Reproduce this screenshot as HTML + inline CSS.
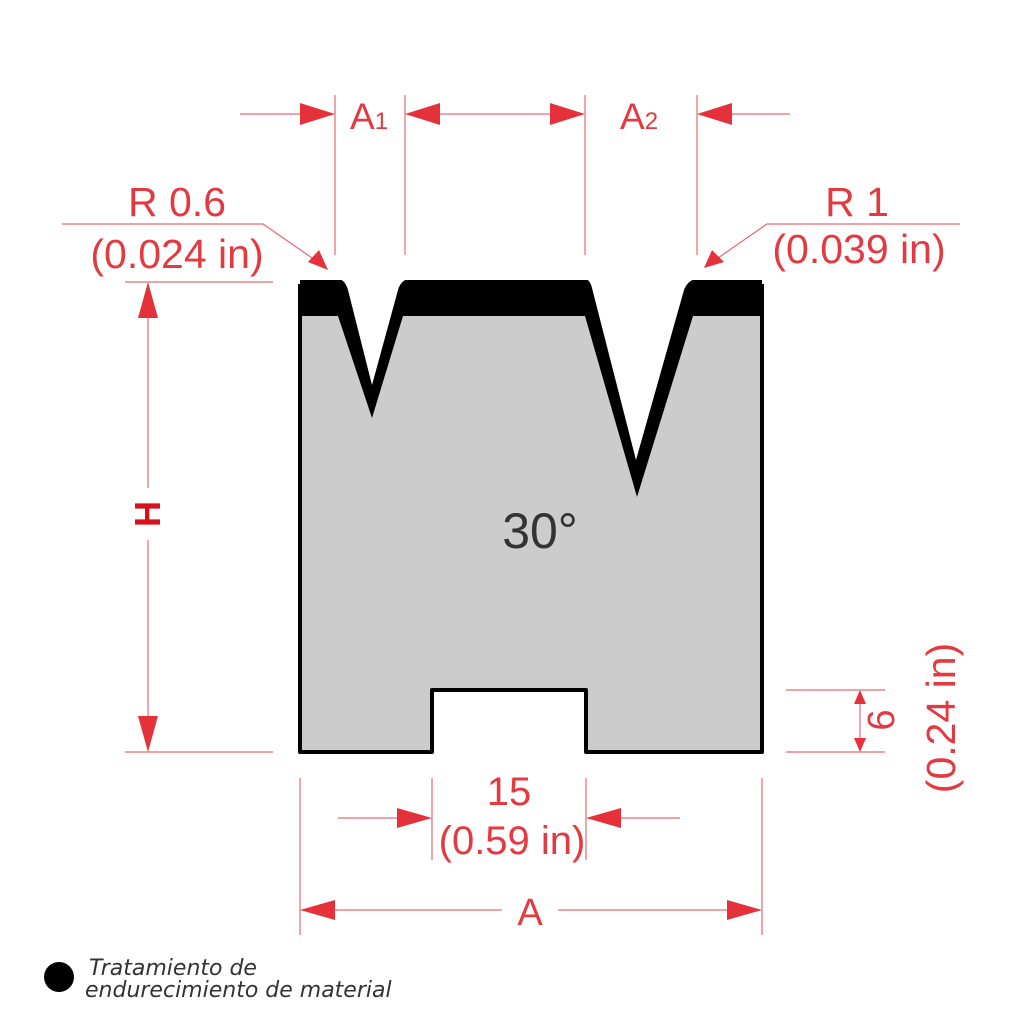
<!DOCTYPE html>
<html><head><meta charset="utf-8"><style>
html,body{margin:0;padding:0;background:#fff;}
svg{display:block;}
</style></head><body>
<svg width="1024" height="1024" viewBox="0 0 1024 1024" xmlns="http://www.w3.org/2000/svg">
<!-- body -->
<path d="M300,282 H762 V752 H586 V690 H432 V752 H300 Z" fill="#cccccc"/>
<!-- black band and V strokes -->
<polygon points="300,280 762,280 762,316 693,316 637,497 585,316 403,316 372,418 338,316 300,316" fill="#000"/>
<!-- outline (no top) -->
<path d="M762,284 V752 H586 V690 H432 V752 H300 V284" fill="none" stroke="#000" stroke-width="4" stroke-linejoin="round"/>
<!-- white notches -->
<path d="M336,278 Q345,279 348,290 L372,385 L398,290 Q401,279 412,278 Z" fill="#fff"/>
<path d="M583,278 Q590,279 592,288 L636,460 L684,290 Q688,279 700,278 Z" fill="#fff"/>
<text x="540" y="548" font-family="Liberation Sans, sans-serif" font-size="50" fill="#333" text-anchor="middle">30°</text>

<g stroke="#e66a70" stroke-width="1.2" fill="none">
<line x1="335" y1="95" x2="335" y2="255"/>
<line x1="405" y1="95" x2="405" y2="255"/>
<line x1="585" y1="95" x2="585" y2="255"/>
<line x1="697" y1="95" x2="697" y2="255"/>
<line x1="240" y1="114" x2="300" y2="114"/>
<line x1="440" y1="114" x2="550" y2="114"/>
<line x1="732" y1="114" x2="790" y2="114"/>
<polyline points="62,224 263,224 315,260"/>
<polyline points="960,224 767,224 718,258"/>
<line x1="125" y1="282" x2="273" y2="282"/>
<line x1="125" y1="752" x2="273" y2="752"/>
<line x1="148" y1="310" x2="148" y2="488"/>
<line x1="148" y1="540" x2="148" y2="725"/>
<line x1="786" y1="690" x2="885" y2="690"/>
<line x1="786" y1="752" x2="885" y2="752"/>
<line x1="860" y1="700" x2="860" y2="742"/>
<line x1="432" y1="778" x2="432" y2="860"/>
<line x1="586" y1="778" x2="586" y2="860"/>
<line x1="338" y1="818" x2="400" y2="818"/>
<line x1="618" y1="818" x2="680" y2="818"/>
<line x1="300" y1="778" x2="300" y2="935"/>
<line x1="762" y1="778" x2="762" y2="935"/>
<line x1="335" y1="910" x2="502" y2="910"/>
<line x1="558" y1="910" x2="727" y2="910"/>
</g>
<g fill="#e5323a">
<polygon points="335,114 300,103 300,125"/>
<polygon points="405,114 440,103 440,125"/>
<polygon points="585,114 550,103 550,125"/>
<polygon points="697,114 732,103 732,125"/>
<polygon points="328,270 308,262 319,250"/>
<polygon points="704,268 712,250 724,262"/>
<polygon points="148,282 138,318 158,318"/>
<polygon points="148,752 138,716 158,716"/>
<polygon points="860,690 854,704 866,704"/>
<polygon points="860,752 854,738 866,738"/>
<polygon points="432,818 397,808 397,828"/>
<polygon points="586,818 621,808 621,828"/>
<polygon points="300,910 335,900 335,920"/>
<polygon points="762,910 727,900 727,920"/>
</g>
<g font-family="Liberation Sans, sans-serif" fill="#e23a40">
<text x="350" y="129" font-size="37">A<tspan font-size="24">1</tspan></text>
<text x="620" y="129" font-size="37">A<tspan font-size="24">2</tspan></text>
<text x="177" y="216" font-size="41" text-anchor="middle">R 0.6</text>
<text x="177" y="268" font-size="41" text-anchor="middle">(0.024 in)</text>
<text x="857" y="216" font-size="41" text-anchor="middle">R 1</text>
<text x="859" y="263" font-size="41" text-anchor="middle">(0.039 in)</text>
<text x="509" y="805" font-size="40" text-anchor="middle">15</text>
<text x="512" y="854" font-size="40" text-anchor="middle">(0.59 in)</text>
<text x="530" y="925" font-size="38" text-anchor="middle">A</text>
<text transform="translate(894,720) rotate(-90)" font-size="38" text-anchor="middle">6</text>
<text transform="translate(955,718) rotate(-90)" font-size="41" text-anchor="middle">(0.24 in)</text>
<text transform="translate(160,514) rotate(-90)" font-size="36" font-weight="bold" fill="#d8121c" text-anchor="middle">H</text>
</g>
<circle cx="59" cy="977" r="15" fill="#000"/>
<g font-family="DejaVu Sans, Liberation Sans, sans-serif" font-style="italic" font-size="22" fill="#333">
<text x="89" y="975">Tratamiento de</text>
<text x="85" y="997">endurecimiento de material</text>
</g>
</svg>
</body></html>
